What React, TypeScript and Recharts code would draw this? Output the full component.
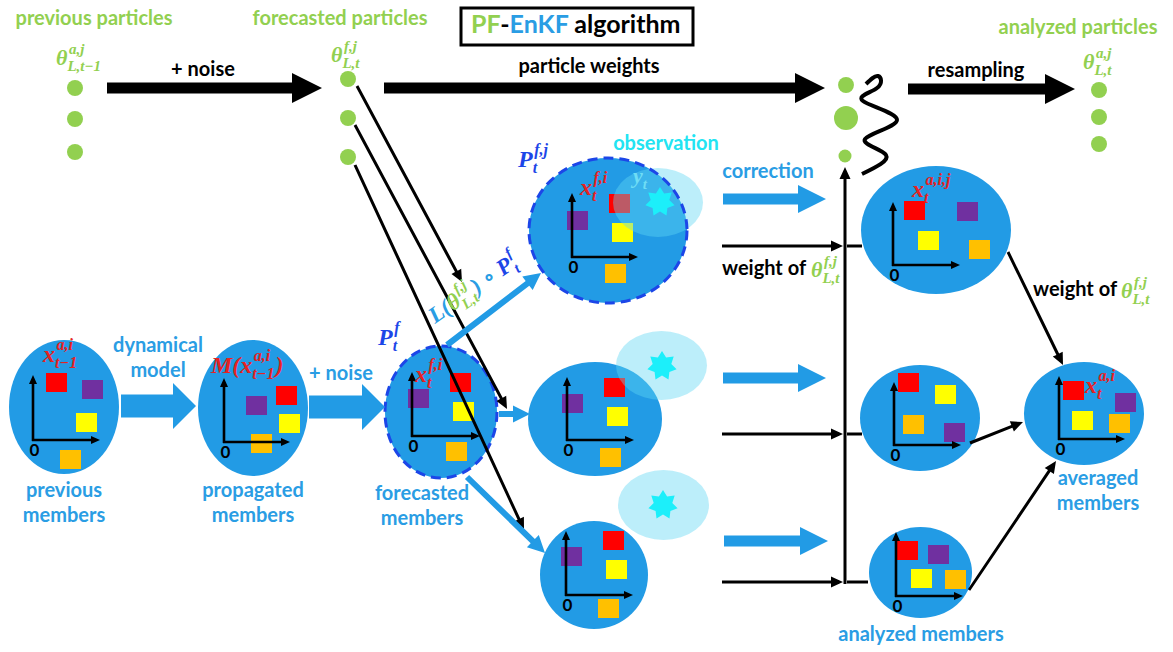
import React from "react";
import {
  ComposedChart,
  XAxis,
  YAxis,
  ZAxis,
  Scatter,
  Line,
  ReferenceArea,
  ReferenceLine,
} from "recharts";

// figure space: x to the right, y downwards (1173 x 652)
const W = 1173;
const H = 652;

// particles, w = relative weight (drives the dot size through the z axis)
const prevParticles = [
  { x: 75, y: 88, w: 1 / 3 },
  { x: 75, y: 119, w: 1 / 3 },
  { x: 75, y: 152, w: 1 / 3 },
];
const forecastParticles = [
  { x: 348, y: 79, w: 1 / 3 },
  { x: 348, y: 118, w: 1 / 3 },
  { x: 348, y: 157, w: 1 / 3 },
];
const weightedParticles = [
  { x: 846, y: 85, w: 0.33 },
  { x: 846, y: 118, w: 0.75 },
  { x: 845, y: 156, w: 0.22 },
];
const analyzedParticles = [
  { x: 1099, y: 90, w: 1 / 3 },
  { x: 1099, y: 117, w: 1 / 3 },
  { x: 1099, y: 144, w: 1 / 3 },
];

// resampling squiggle
const resampleWave = [
  { x: 866, y: 84 },
  { x: 878, y: 76 },
  { x: 877, y: 88 },
  { x: 863, y: 101 },
  { x: 897, y: 120 },
  { x: 865, y: 139 },
  { x: 886, y: 155 },
  { x: 862, y: 174 },
];

// ensemble clouds (bounding boxes)
const memberClouds = [
  { x1: 9, x2: 119, y1: 340, y2: 474, forecast: false },
  { x1: 198, x2: 308, y1: 340, y2: 476, forecast: false },
  { x1: 385, x2: 497, y1: 346, y2: 478, forecast: true },
  { x1: 529, x2: 687, y1: 158, y2: 303, forecast: true },
  { x1: 528, x2: 662, y1: 362, y2: 476, forecast: false },
  { x1: 540, x2: 648, y1: 521, y2: 629, forecast: false },
  { x1: 861, x2: 1011, y1: 166, y2: 294, forecast: false },
  { x1: 860, x2: 980, y1: 365, y2: 471, forecast: false },
  { x1: 869, x2: 972, y1: 527, y2: 618, forecast: false },
  { x1: 1024, x2: 1144, y1: 362, y2: 465, forecast: false },
];

const obsClouds = [
  { x1: 613, x2: 703, y1: 168, y2: 237 },
  { x1: 616, x2: 707, y1: 331, y2: 400 },
  { x1: 618, x2: 709, y1: 470, y2: 540 },
];
const obsStars = [
  { x: 660, y: 202 },
  { x: 662, y: 366 },
  { x: 663, y: 505 },
];

// member state squares (top-left corner, colour name)
const memberSquares = [
  { x: 46, y: 373, c: "red" }, { x: 82, y: 380, c: "purple" }, { x: 76, y: 413, c: "yellow" }, { x: 60, y: 450, c: "orange" },
  { x: 246, y: 396, c: "purple" }, { x: 276, y: 386, c: "red" }, { x: 279, y: 414, c: "yellow" }, { x: 251, y: 434, c: "orange" },
  { x: 408, y: 389, c: "purple" }, { x: 450, y: 373, c: "red" }, { x: 453, y: 402, c: "yellow" }, { x: 446, y: 442, c: "orange" },
  { x: 567, y: 211, c: "purple" }, { x: 609, y: 194, c: "red" }, { x: 612, y: 223, c: "yellow" }, { x: 605, y: 264, c: "orange" },
  { x: 562, y: 394, c: "purple" }, { x: 604, y: 378, c: "red" }, { x: 607, y: 407, c: "yellow" }, { x: 600, y: 448, c: "orange" },
  { x: 561, y: 547, c: "purple" }, { x: 603, y: 531, c: "red" }, { x: 606, y: 560, c: "yellow" }, { x: 598, y: 599, c: "orange" },
  { x: 904, y: 201, c: "red" }, { x: 957, y: 202, c: "purple" }, { x: 918, y: 231, c: "yellow" }, { x: 969, y: 240, c: "orange" },
  { x: 898, y: 373, c: "red" }, { x: 935, y: 385, c: "yellow" }, { x: 903, y: 415, c: "orange" }, { x: 944, y: 423, c: "purple" },
  { x: 897, y: 541, c: "red" }, { x: 928, y: 545, c: "purple" }, { x: 911, y: 569, c: "yellow" }, { x: 945, y: 570, c: "orange" },
  { x: 1063, y: 381, c: "red" }, { x: 1115, y: 393, c: "purple" }, { x: 1072, y: 411, c: "yellow" }, { x: 1109, y: 414, c: "orange" },
];

// little state-space axes inside each cloud (origin, top of y axis, end of x axis)
const memberAxes = [
  { x: 33, y: 440, top: 375, right: 100 },
  { x: 224, y: 442, top: 378, right: 290 },
  { x: 412, y: 436, top: 372, right: 480 },
  { x: 572, y: 257, top: 193, right: 638 },
  { x: 567, y: 440, top: 377, right: 634 },
  { x: 566, y: 595, top: 531, right: 633 },
  { x: 893, y: 265, top: 202, right: 960 },
  { x: 894, y: 445, top: 382, right: 961 },
  { x: 896, y: 596, top: 532, right: 963 },
  { x: 1059, y: 439, top: 376, right: 1125 },
];

// arrows, by kind
const particleArrows = [
  { x1: 107, y1: 88, x2: 322, y2: 88 },
  { x1: 384, y1: 88, x2: 825, y2: 88 },
  { x1: 908, y1: 89, x2: 1075, y2: 89 },
];
const weightLinks = [
  { x1: 357, y1: 86, x2: 462, y2: 282 },
  { x1: 355, y1: 125, x2: 507, y2: 409 },
  { x1: 355, y1: 165, x2: 524, y2: 530 },
  { x1: 722, y1: 246, x2: 843, y2: 246 },
  { x1: 722, y1: 434, x2: 843, y2: 434 },
  { x1: 722, y1: 582, x2: 843, y2: 582 },
  { x1: 845, y1: 584, x2: 845, y2: 167 },
  { x1: 1008, y1: 252, x2: 1063, y2: 365 },
  { x1: 970, y1: 443, x2: 1023, y2: 422 },
  { x1: 969, y1: 590, x2: 1056, y2: 461 },
];
const weightStubs = [
  { x1: 847, y1: 246, x2: 862, y2: 246 },
  { x1: 847, y1: 434, x2: 862, y2: 434 },
  { x1: 847, y1: 582, x2: 868, y2: 582 },
];
const memberSteps = [
  { x1: 121, y1: 406, x2: 196, y2: 406 },
  { x1: 309, y1: 407, x2: 385, y2: 407 },
];
const corrections = [
  { x1: 723, y1: 199, x2: 826, y2: 199 },
  { x1: 723, y1: 378, x2: 826, y2: 378 },
  { x1: 724, y1: 541, x2: 828, y2: 541 },
];
const localisations = [
  { x1: 447, y1: 345, x2: 541, y2: 273 },
  { x1: 499, y1: 414, x2: 530, y2: 414 },
  { x1: 467, y1: 477, x2: 545, y2: 553 },
];

// plain text labels
const notes = [
  { x: 94, y: 25, text: "previous particles", group: "particles" },
  { x: 340, y: 25, text: "forecasted particles", group: "particles" },
  { x: 1078, y: 34, text: "analyzed particles", group: "particles" },
  { x: 203, y: 76, text: "+ noise", group: "step" },
  { x: 589, y: 73, text: "particle weights", group: "step" },
  { x: 976, y: 77, text: "resampling", group: "step" },
  { x: 64, y: 497, text: "previous", group: "members" },
  { x: 64, y: 522, text: "members", group: "members" },
  { x: 158, y: 352, text: "dynamical", group: "members" },
  { x: 158, y: 377, text: "model", group: "members" },
  { x: 253, y: 497, text: "propagated", group: "members" },
  { x: 253, y: 522, text: "members", group: "members" },
  { x: 341, y: 380, text: "+ noise", group: "members" },
  { x: 422, y: 500, text: "forecasted", group: "members" },
  { x: 422, y: 525, text: "members", group: "members" },
  { x: 768, y: 178, text: "correction", group: "members" },
  { x: 921, y: 641, text: "analyzed members", group: "members" },
  { x: 1098, y: 485, text: "averaged", group: "members" },
  { x: 1098, y: 510, text: "members", group: "members" },
  { x: 666, y: 150, text: "observation", group: "obs" },
  { x: 722, y: 275, text: "weight of", group: "weight" },
  { x: 1033, y: 296, text: "weight of", group: "weight" },
];

const titleParts = [
  { t: "PF", tone: "green" },
  { t: "-", tone: "black" },
  { t: "EnKF", tone: "blue" },
  { t: " algorithm", tone: "black" },
];
const titleAnchor = [{ x: 471, y: 33 }];
const titleBox = { x1: 461, x2: 693, y1: 8, y2: 45 };

// math labels: base glyph with stacked superscript / subscript
const mathLabels = [
  { x: 56, y: 65, group: "param", parts: [{ t: "θ", sup: "a,j", sub: "L,t−1" }] },
  { x: 331, y: 62, group: "param", parts: [{ t: "θ", sup: "f,j", sub: "L,t" }] },
  { x: 1083, y: 69, group: "param", parts: [{ t: "θ", sup: "a,j", sub: "L,t" }] },
  { x: 811, y: 277, group: "param", parts: [{ t: "θ", sup: "f,j", sub: "L,t" }] },
  { x: 1121, y: 298, group: "param", parts: [{ t: "θ", sup: "f,j", sub: "L,t" }] },
  { x: 43, y: 362, group: "state", parts: [{ t: "x", sup: "a,i", sub: "t−1" }] },
  { x: 211, y: 373, group: "state", parts: [{ t: "M(x", sup: "a,i", sub: "t−1" }, { t: ")" }] },
  { x: 415, y: 382, group: "state", parts: [{ t: "x", sup: "f,i", sub: "t" }] },
  { x: 580, y: 195, group: "state", parts: [{ t: "x", sup: "f,i", sub: "t" }] },
  { x: 912, y: 197, group: "state", parts: [{ t: "x", sup: "a,i,j", sub: "t" }] },
  { x: 1085, y: 393, group: "state", parts: [{ t: "x", sup: "a,i", sub: "t" }] },
  { x: 518, y: 167, group: "cov", parts: [{ t: "P", sup: "f,j", sub: "t" }] },
  { x: 378, y: 345, group: "cov", parts: [{ t: "P", sup: "f", sub: "t" }] },
  { x: 633, y: 183, group: "obs", parts: [{ t: "y", sub: "t" }] },
];
const localisationLabel = [
  {
    x: 435,
    y: 324,
    group: "loc",
    parts: [
      { t: "L(", tone: "blue" },
      { t: "θ", tone: "green", sup: "f,j", sub: "L,t" },
      { t: ")", tone: "blue" },
      { t: " ∘ ", tone: "blue" },
      { t: "P", tone: "darkBlue", sup: "f", sub: "t" },
    ],
  },
];

// ---- styles ----
const tone: Record<string, string> = {
  green: "#92D050",
  black: "#000000",
  blue: "#2A9DE4",
  darkBlue: "#1C46E8",
  red: "#E52222",
  cyan: "#22E4F2",
  cyanSoft: "#6FDDF5",
};
const cloudFill = "#229BE5";
const squareFill: Record<string, string> = {
  red: "#FF0000",
  purple: "#7030A0",
  yellow: "#FFFF00",
  orange: "#FFC000",
};
const noteStyle: Record<string, { color: string; anchor: "middle" | "start" }> = {
  particles: { color: tone.green, anchor: "middle" },
  step: { color: tone.black, anchor: "middle" },
  members: { color: tone.blue, anchor: "middle" },
  obs: { color: tone.cyan, anchor: "middle" },
  weight: { color: tone.black, anchor: "start" },
};
const mathStyle: Record<string, { color: string; size: number; angle?: number }> = {
  param: { color: tone.green, size: 22 },
  state: { color: tone.red, size: 24 },
  cov: { color: tone.darkBlue, size: 24 },
  obs: { color: tone.cyanSoft, size: 22 },
  loc: { color: tone.blue, size: 23, angle: -35 },
};
const SANS = "Lato, 'Open Sans', sans-serif";
const SERIF = "'Liberation Serif', 'DejaVu Serif', serif";
const SQ_W = 21;
const SQ_H = 19;

type ArrowSpec = { fill: string; shaft: number; head: number; headW: number };
const arrowKinds: Record<string, ArrowSpec> = {
  bigBlack: { fill: "#000", shaft: 11, head: 30, headW: 30 },
  thinBlack: { fill: "#000", shaft: 3, head: 12, headW: 11 },
  stub: { fill: "#000", shaft: 3, head: 0, headW: 3 },
  axis: { fill: "#000", shaft: 2.6, head: 9, headW: 8 },
  blueBlock: { fill: cloudFill, shaft: 23, head: 23, headW: 46 },
  blueMedium: { fill: cloudFill, shaft: 11, head: 28, headW: 28 },
  blueThin: { fill: cloudFill, shaft: 6, head: 17, headW: 17 },
};

let measureCtx: CanvasRenderingContext2D | null = null;
function textWidth(s: string, size: number, font: string) {
  if (!measureCtx && typeof document !== "undefined") {
    measureCtx = document.createElement("canvas").getContext("2d");
  }
  if (!measureCtx) return s.length * size * 0.5;
  measureCtx.font = `italic bold ${size}px ${font}`;
  return measureCtx.measureText(s).width;
}

function arrowPath(x1: number, y1: number, x2: number, y2: number, s: ArrowSpec) {
  const len = Math.hypot(x2 - x1, y2 - y1) || 1;
  const ux = (x2 - x1) / len;
  const uy = (y2 - y1) / len;
  const nx = -uy;
  const ny = ux;
  const bx = x2 - ux * s.head;
  const by = y2 - uy * s.head;
  const pts = [
    [x1 + (nx * s.shaft) / 2, y1 + (ny * s.shaft) / 2],
    [bx + (nx * s.shaft) / 2, by + (ny * s.shaft) / 2],
    [bx + (nx * s.headW) / 2, by + (ny * s.headW) / 2],
    [x2, y2],
    [bx - (nx * s.headW) / 2, by - (ny * s.headW) / 2],
    [bx - (nx * s.shaft) / 2, by - (ny * s.shaft) / 2],
    [x1 - (nx * s.shaft) / 2, y1 - (ny * s.shaft) / 2],
  ];
  return "M" + pts.map((p) => p.map((v) => v.toFixed(1)).join(",")).join("L") + "Z";
}

function arrowLines(list: { x1: number; y1: number; x2: number; y2: number }[], kind: string, key: string) {
  const spec = arrowKinds[kind];
  return list.map((a, i) => (
    <ReferenceLine
      key={`${key}-${i}`}
      segment={[
        { x: a.x1, y: a.y1 },
        { x: a.x2, y: a.y2 },
      ]}
      shape={(p: any) => <path d={arrowPath(p.x1, p.y1, p.x2, p.y2, spec)} fill={spec.fill} />}
    />
  ));
}

type MathPart = { t: string; sup?: string; sub?: string; tone?: string };

function MathRun({ x, y, group, parts }: { x: number; y: number; group: string; parts: MathPart[] }) {
  const st = mathStyle[group];
  const size = st.size;
  const small = Math.round(size * 0.66);
  let cur = x;
  const out: React.ReactNode[] = [];
  parts.forEach((p, i) => {
    const fill = p.tone ? tone[p.tone] : st.color;
    const common = { fontFamily: SERIF, fontStyle: "italic", fontWeight: 700, fill, style: { whiteSpace: "pre" as const } };
    out.push(
      <text key={`b${i}`} x={cur} y={y} fontSize={size} {...common}>
        {p.t}
      </text>
    );
    cur += textWidth(p.t, size, SERIF);
    if (p.sup || p.sub) {
      if (p.sup)
        out.push(
          <text key={`p${i}`} x={cur + 1.5} y={y - size * 0.5} fontSize={small} {...common}>
            {p.sup}
          </text>
        );
      if (p.sub)
        out.push(
          <text key={`s${i}`} x={cur} y={y + size * 0.27} fontSize={small} {...common}>
            {p.sub}
          </text>
        );
      cur += Math.max(textWidth(p.sup ?? "", small, SERIF) + 1.5, textWidth(p.sub ?? "", small, SERIF)) + 1;
    }
  });
  return <g transform={st.angle ? `rotate(${st.angle} ${x} ${y})` : undefined}>{out}</g>;
}

function starPath(cx: number, cy: number, ro: number, ri: number, n: number) {
  const pts: string[] = [];
  for (let k = 0; k < n * 2; k++) {
    const r = k % 2 === 0 ? ro : ri;
    const a = -Math.PI / 2 + (k * Math.PI) / n;
    pts.push(`${(cx + r * Math.cos(a)).toFixed(1)},${(cy + r * Math.sin(a)).toFixed(1)}`);
  }
  return "M" + pts.join("L") + "Z";
}

const ellipseShape = (fill: string, opacity = 1, stroke = "none", dash?: string) => (p: any) => (
  <ellipse
    cx={p.x + p.width / 2}
    cy={p.y + p.height / 2}
    rx={p.width / 2}
    ry={p.height / 2}
    fill={fill}
    fillOpacity={opacity}
    stroke={stroke}
    strokeWidth={3}
    strokeDasharray={dash}
  />
);

export default function App() {
  return (
    <div style={{ position: "absolute", left: 0, top: 0, width: W, height: H, background: "#fff" }}>
      <ComposedChart width={W} height={H} margin={{ top: 0, right: 0, bottom: 0, left: 0 }}>
        <XAxis type="number" dataKey="x" domain={[0, W]} allowDataOverflow hide />
        <YAxis type="number" dataKey="y" domain={[0, H]} allowDataOverflow reversed hide />
        <ZAxis type="number" dataKey="w" domain={[0, 1]} range={[0, 603]} />

        <ReferenceArea
          x1={titleBox.x1}
          x2={titleBox.x2}
          y1={titleBox.y1}
          y2={titleBox.y2}
          fill="#fff"
          fillOpacity={1}
          stroke="#000"
          strokeWidth={3}
        />

        {memberClouds.map((c, i) => (
          <ReferenceArea key={`cloud-${i}`} x1={c.x1} x2={c.x2} y1={c.y1} y2={c.y2} shape={ellipseShape(cloudFill)} />
        ))}
        {memberSquares.map((s, i) => (
          <ReferenceArea
            key={`sq-${i}`}
            x1={s.x}
            x2={s.x + SQ_W}
            y1={s.y}
            y2={s.y + SQ_H}
            fill={squareFill[s.c]}
            fillOpacity={1}
            stroke="none"
          />
        ))}
        {obsClouds.map((c, i) => (
          <ReferenceArea key={`obs-${i}`} x1={c.x1} x2={c.x2} y1={c.y1} y2={c.y2} shape={ellipseShape("#60D6F3", 0.42)} />
        ))}
        {memberClouds
          .filter((c) => c.forecast)
          .map((c, i) => (
            <ReferenceArea
              key={`dash-${i}`}
              x1={c.x1}
              x2={c.x2}
              y1={c.y1}
              y2={c.y2}
              shape={ellipseShape("none", 0, tone.darkBlue, "10 6")}
            />
          ))}

        {arrowLines(
          memberAxes.map((a) => ({ x1: a.x, y1: a.y + 1, x2: a.x, y2: a.top })),
          "axis",
          "ay"
        )}
        {arrowLines(
          memberAxes.map((a) => ({ x1: a.x - 1, y1: a.y, x2: a.right, y2: a.y })),
          "axis",
          "ax"
        )}
        {arrowLines(particleArrows, "bigBlack", "pa")}
        {arrowLines(weightLinks, "thinBlack", "wl")}
        {arrowLines(weightStubs, "stub", "ws")}
        {arrowLines(memberSteps, "blueBlock", "ms")}
        {arrowLines(corrections, "blueMedium", "co")}
        {arrowLines(localisations, "blueThin", "lo")}

        <Line
          data={resampleWave}
          dataKey="y"
          type="natural"
          stroke="#000"
          strokeWidth={4}
          dot={false}
          isAnimationActive={false}
        />

        <Scatter data={prevParticles} fill={tone.green} isAnimationActive={false} />
        <Scatter data={forecastParticles} fill={tone.green} isAnimationActive={false} />
        <Scatter data={weightedParticles} fill={tone.green} isAnimationActive={false} />
        <Scatter data={analyzedParticles} fill={tone.green} isAnimationActive={false} />

        <Scatter
          data={obsStars}
          isAnimationActive={false}
          shape={(p: any) => <path d={starPath(p.cx, p.cy, 15, 9.5, 7)} fill="#1CEFFA" />}
        />

        <Scatter
          data={memberAxes}
          isAnimationActive={false}
          shape={(p: any) => (
            <text x={p.cx + 1.5} y={p.cy + 15.5} textAnchor="middle" fontFamily={SANS} fontWeight={700} fontSize={17} fill="#000">
              0
            </text>
          )}
        />

        <Scatter
          data={notes}
          isAnimationActive={false}
          shape={(p: any) => {
            const st = noteStyle[p.payload.group];
            return (
              <text
                x={p.cx}
                y={p.cy}
                textAnchor={st.anchor}
                fontFamily={SANS}
                fontWeight={700}
                fontSize={20}
                fill={st.color}
              >
                {p.payload.text}
              </text>
            );
          }}
        />

        <Scatter
          data={titleAnchor}
          isAnimationActive={false}
          shape={(p: any) => (
            <text x={p.cx} y={p.cy} fontFamily={SANS} fontWeight={700} fontSize={25} style={{ whiteSpace: "pre" }}>
              {titleParts.map((t, i) => (
                <tspan key={i} fill={tone[t.tone]}>
                  {t.t}
                </tspan>
              ))}
            </text>
          )}
        />

        <Scatter
          data={mathLabels}
          isAnimationActive={false}
          shape={(p: any) => <MathRun x={p.cx} y={p.cy} group={p.payload.group} parts={p.payload.parts} />}
        />
        <Scatter
          data={localisationLabel}
          isAnimationActive={false}
          shape={(p: any) => <MathRun x={p.cx} y={p.cy} group={p.payload.group} parts={p.payload.parts} />}
        />
      </ComposedChart>
    </div>
  );
}
